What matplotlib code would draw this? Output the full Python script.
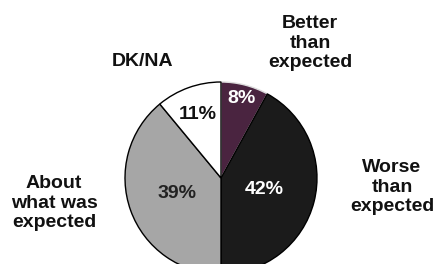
import numpy as np
import matplotlib
matplotlib.use('Agg')
import matplotlib.pyplot as plt

# slices, clockwise from 12 o'clock
categories = ['Better\nthan\nexpected', 'Worse\nthan\nexpected',
              'About\nwhat was\nexpected', 'DK/NA']
values = [8, 42, 39, 11]
colors = ['#4a2440', '#1b1b1b', '#a6a6a6', '#ffffff']
pct_colors = ['white', 'white', '#222222', '#111111']
# radial position of the percent label as a fraction of the radius
pct_dist = [0.86, 0.47, 0.49, 0.70]
# outer label positions (figure pixels, y up)
label_pos = [(310, 221), (392, 77), (54, 61), (143, 202)]

plt.rcParams['font.family'] = ['Liberation Sans', 'DejaVu Sans']

fig = plt.figure(figsize=(4.33, 2.64), dpi=100)
ax = fig.add_axes([0, 0, 1, 1])
ax.set_xlim(0, 433)
ax.set_ylim(0, 264)
ax.axis('off')

center = (221, 86)
radius = 96
wedges, _ = ax.pie(values, colors=colors, startangle=90, counterclock=False,
                   center=center, radius=radius,
                   wedgeprops=dict(edgecolor='black', linewidth=1.0))
wedges[0].set_edgecolor('#dddddd')
ax.set_xlim(0, 433)
ax.set_ylim(0, 264)

for w, v, c, d in zip(wedges, values, pct_colors, pct_dist):
    ang = np.deg2rad((w.theta1 + w.theta2) / 2)
    x = center[0] + d * radius * np.cos(ang)
    y = center[1] + d * radius * np.sin(ang)
    ax.text(x, y, f'{v}%', color=c, fontsize=14, fontweight='bold',
            ha='center', va='center')

for lab, (x, y) in zip(categories, label_pos):
    ax.text(x, y, lab, fontsize=14, fontweight='bold', ha='center',
            va='center', linespacing=1.2, color='#111111')

fig.savefig('out.png', dpi=100)
